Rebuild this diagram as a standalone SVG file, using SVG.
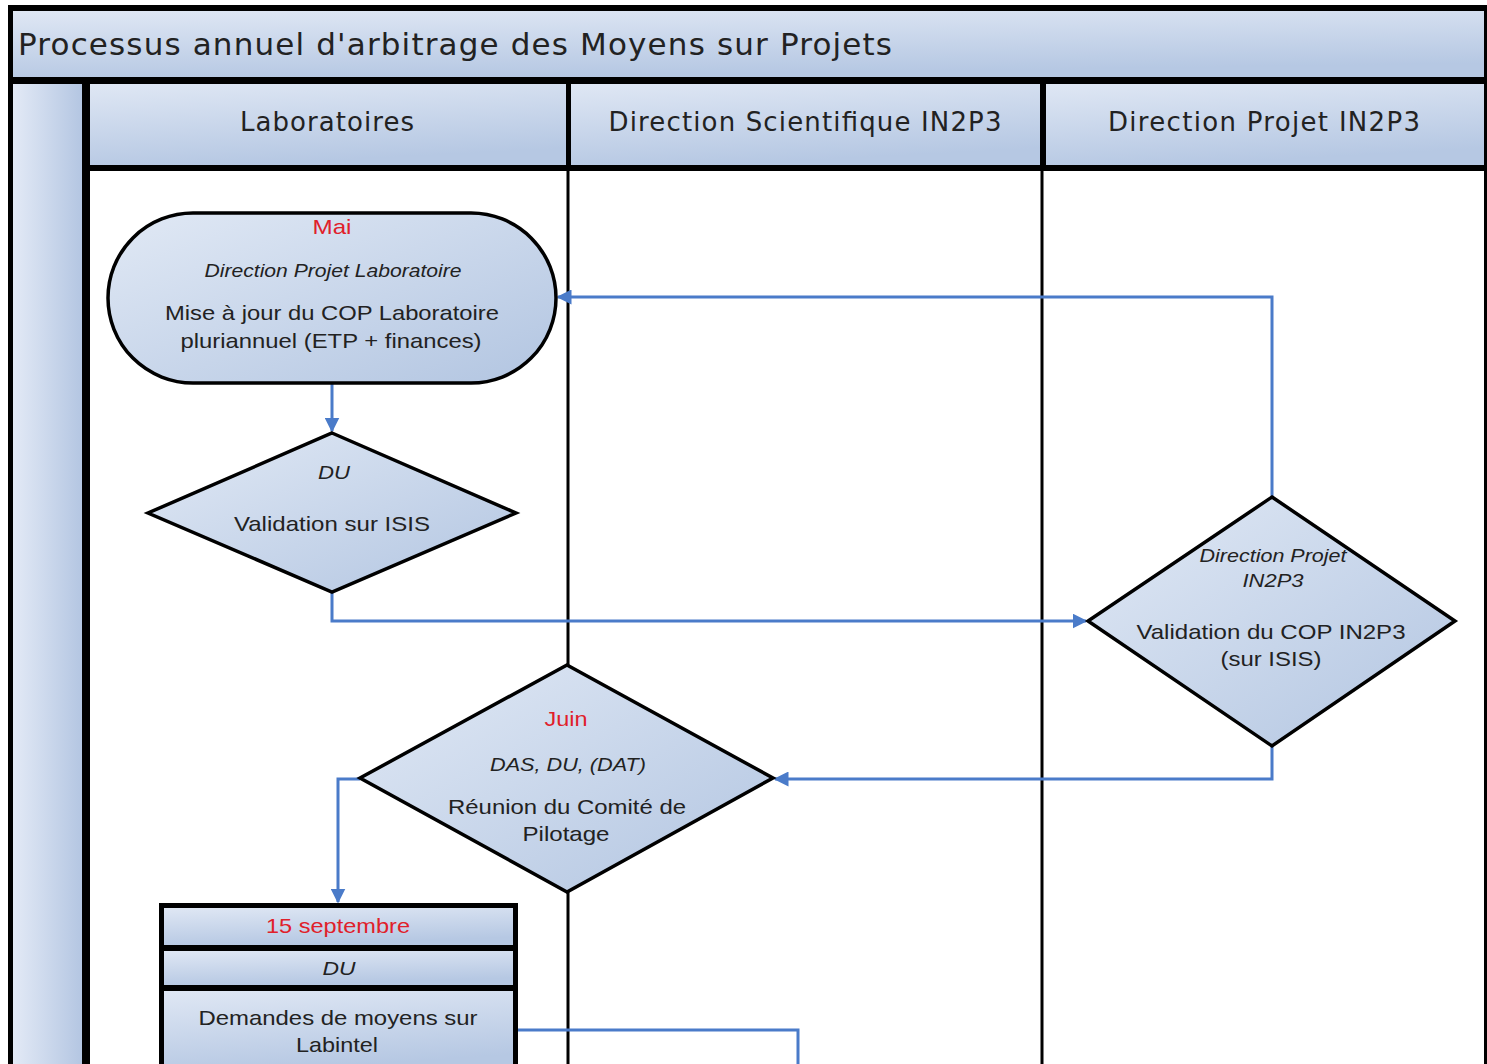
<svg xmlns="http://www.w3.org/2000/svg" width="1487" height="1064" viewBox="0 0 1487 1064">
<defs>
<linearGradient id="gNode" x1="0" y1="0" x2="1" y2="1">
<stop offset="0" stop-color="#e1e9f5"/>
<stop offset="1" stop-color="#b2c5e1"/>
</linearGradient>
<linearGradient id="gBar" x1="0" y1="0" x2="0.3" y2="1">
<stop offset="0" stop-color="#dfe7f4"/>
<stop offset="1" stop-color="#b6c8e3"/>
</linearGradient>
<linearGradient id="gSide" x1="0" y1="0" x2="1" y2="0">
<stop offset="0" stop-color="#e3eaf6"/>
<stop offset="1" stop-color="#b4c6e2"/>
</linearGradient>
<marker id="arr" viewBox="0 0 10 10" refX="9" refY="5" markerWidth="5" markerHeight="5" orient="auto" markerUnits="strokeWidth">
<path d="M0,0 L10,5 L0,10 z" fill="#4a7bc9"/>
</marker>
<style>
.node{fill:url(#gNode);stroke:#000;stroke-width:3.5}
.bar{fill:url(#gBar)}
.hdr{font-family:"DejaVu Sans",sans-serif;font-size:26px;fill:#222;text-anchor:middle}
.t{font-family:"Liberation Sans",Arial,sans-serif;font-size:21px;fill:#222;text-anchor:middle}
.i{font-family:"Liberation Sans",Arial,sans-serif;font-size:18px;font-style:italic;fill:#222;text-anchor:middle}
.r{font-family:"Liberation Sans",Arial,sans-serif;font-size:21px;fill:#e0202a;text-anchor:middle}
.c{fill:none;stroke:#4a7bc9;stroke-width:3}
.ln{stroke:#000;fill:none}
</style>
</defs>
<rect width="1487" height="1064" fill="#fff"/>
<g id="pool">
<rect x="8" y="5" width="1479" height="80" fill="#000"/>
<rect x="13" y="11" width="1472" height="66" class="bar"/>
<text x="18" y="55" font-family="DejaVu Sans,sans-serif" font-size="31" fill="#222" textLength="874">Processus annuel d'arbitrage des Moyens sur Projets</text>
<rect x="8" y="77" width="5" height="987" fill="#000"/>
<rect x="13" y="84" width="69" height="980" fill="url(#gSide)"/>
<rect x="82" y="84" width="8" height="980" fill="#000"/>
<rect x="1484" y="5" width="3" height="1059" fill="#000"/>
<rect x="90" y="165" width="1394" height="6" fill="#000"/>
<line class="ln" x1="568" y1="165" x2="568" y2="1064" stroke-width="3"/>
<line class="ln" x1="1042" y1="165" x2="1042" y2="1064" stroke-width="3"/>
</g>
<g id="lane-labo">
<rect x="90" y="84" width="476" height="81" class="bar"/>
<text x="327" y="131" class="hdr" textLength="174">Laboratoires</text>
</g>
<g id="lane-ds">
<rect x="566" y="84" width="5" height="81" fill="#000"/>
<rect x="571" y="84" width="469" height="81" class="bar"/>
<text x="805" y="131" class="hdr" textLength="393">Direction Scientifique IN2P3</text>
</g>
<g id="lane-dp">
<rect x="1040" y="84" width="6" height="81" fill="#000"/>
<rect x="1046" y="84" width="438" height="81" class="bar"/>
<text x="1264" y="131" class="hdr" textLength="312">Direction Projet IN2P3</text>
</g>
<g id="connectors">
<path class="c" d="M332,384 V431" marker-end="url(#arr)"/>
<path class="c" d="M332,592 V621 H1086" marker-end="url(#arr)"/>
<path class="c" d="M1272,497 V297 H558" marker-end="url(#arr)"/>
<path class="c" d="M1272,746 V779 H775" marker-end="url(#arr)"/>
<path class="c" d="M360,779 H338 V902" marker-end="url(#arr)"/>
<path class="c" d="M516,1030 H798 V1064"/>
</g>
<g id="n-mai">
<rect x="108" y="213" width="448" height="170" rx="85" ry="85" class="node"/>
<text x="332" y="234" class="r" textLength="39" lengthAdjust="spacingAndGlyphs">Mai</text>
<text x="333" y="277" class="i" textLength="257" lengthAdjust="spacingAndGlyphs">Direction Projet Laboratoire</text>
<text x="332" y="320" class="t" textLength="334" lengthAdjust="spacingAndGlyphs">Mise à jour du COP Laboratoire</text>
<text x="331" y="348" class="t" textLength="301" lengthAdjust="spacingAndGlyphs">pluriannuel (ETP + finances)</text>
</g>
<g id="n-du">
<polygon points="332,433 516,513 332,592 148,513" class="node"/>
<text x="334" y="479" class="i" textLength="32" lengthAdjust="spacingAndGlyphs">DU</text>
<text x="332" y="531" class="t" textLength="196" lengthAdjust="spacingAndGlyphs">Validation sur ISIS</text>
</g>
<g id="n-dp">
<polygon points="1272,497 1455,621 1272,746 1088,621" class="node"/>
<text x="1273" y="562" class="i" textLength="147" lengthAdjust="spacingAndGlyphs">Direction Projet</text>
<text x="1273" y="587" class="i" textLength="61" lengthAdjust="spacingAndGlyphs">IN2P3</text>
<text x="1271" y="639" class="t" textLength="269" lengthAdjust="spacingAndGlyphs">Validation du COP IN2P3</text>
<text x="1271" y="666" class="t" textLength="101" lengthAdjust="spacingAndGlyphs">(sur ISIS)</text>
</g>
<g id="n-juin">
<polygon points="567,665 773,778 567,892 360,778" class="node"/>
<text x="566" y="726" class="r" textLength="43" lengthAdjust="spacingAndGlyphs">Juin</text>
<text x="568" y="771" class="i" textLength="156" lengthAdjust="spacingAndGlyphs">DAS, DU, (DAT)</text>
<text x="567" y="814" class="t" textLength="238" lengthAdjust="spacingAndGlyphs">Réunion du Comité de</text>
<text x="566" y="841" class="t" textLength="87" lengthAdjust="spacingAndGlyphs">Pilotage</text>
</g>
<g id="n-sept">
<rect x="159" y="903" width="359" height="170" fill="#000"/>
<rect x="164" y="908" width="349" height="37" class="bar"/>
<rect x="164" y="951" width="349" height="34" class="bar"/>
<rect x="164" y="991" width="349" height="80" class="bar"/>
<text x="338" y="933" class="r" textLength="144" lengthAdjust="spacingAndGlyphs">15 septembre</text>
<text x="339" y="975" class="i" textLength="33" lengthAdjust="spacingAndGlyphs">DU</text>
<text x="338" y="1025" class="t" textLength="279" lengthAdjust="spacingAndGlyphs">Demandes de moyens sur</text>
<text x="337" y="1052" class="t" textLength="82" lengthAdjust="spacingAndGlyphs">Labintel</text>
</g>
</svg>
